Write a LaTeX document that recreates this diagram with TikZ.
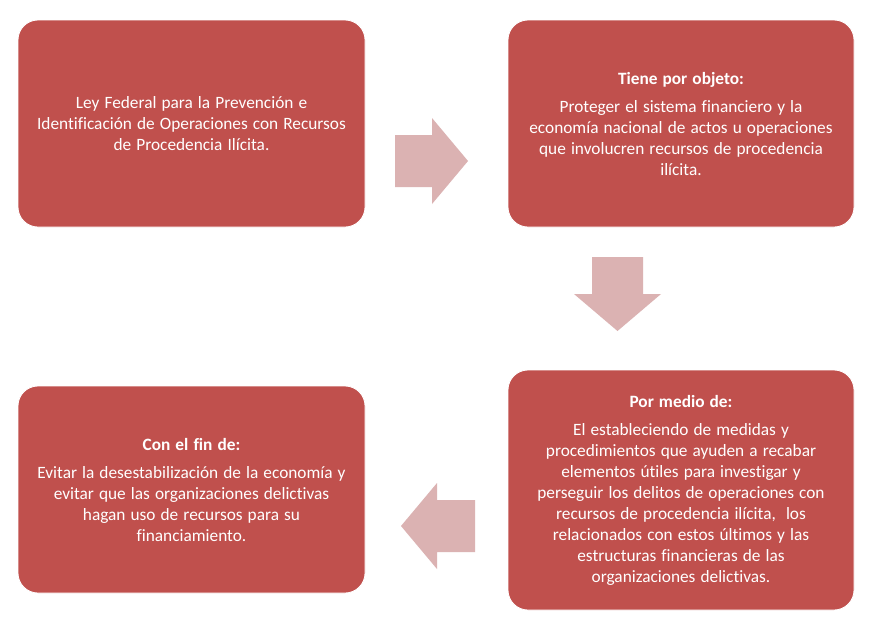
\documentclass[tikz,border=0pt]{standalone}
\usepackage{fontspec}
\setmainfont{Carlito}[Ligatures=NoCommon, WordSpace={1.3}]
\usetikzlibrary{calc}
\definecolor{boxred}{HTML}{C0504D}
\definecolor{arrowpink}{HTML}{DBB2B2}
\tikzset{
	redbox/.style={rectangle, rounded corners=20pt, fill=boxred, draw=white, line width=0.8pt,
		text=white, align=center, inner sep=0pt, font=\fontsize{17.3}{21}\selectfont},
	blockarrow/.style={fill=arrowpink, draw=none}
}

\begin{document}
\begin{tikzpicture}[x=1pt, y=-1pt]
		%%%%% START %%%%%
		
		\useasboundingbox[fill=white] (0, 0) rectangle (885, 635);
		
		\node[redbox, minimum width=347pt, minimum height=207pt] (ley) at (191.5, 123.5)
			{Ley Federal para la Prevención e\\Identificación de Operaciones con Recursos\\de Procedencia Ilícita.};
		\node[redbox, minimum width=346pt, minimum height=207pt] (objeto) at (681, 123.5)
			{\textbf{Tiene por objeto:}\\[7pt]Proteger el sistema financiero y la\\economía nacional de actos u operaciones\\que involucren recursos de procedencia\\ilícita.};
		\node[redbox, minimum width=346pt, minimum height=240pt] (medio) at (681, 490)
			{\textbf{Por medio de:}\\[7pt]El estableciendo de medidas y\\procedimientos que ayuden a recabar\\elementos útiles para investigar y\\perseguir los delitos de operaciones con\\recursos de procedencia ilícita, \ los\\relacionados con estos últimos y las\\estructuras financieras de las\\organizaciones delictivas.};
		\node[redbox, minimum width=347pt, minimum height=207pt] (fin) at (191.5, 489.5)
			{\textbf{Con el fin de:}\\[7pt]Evitar la desestabilización de la economía y\\evitar que las organizaciones delictivas\\hagan uso de recursos para su\\financiamiento.};
		
		% arrows between the boxes
		\fill[blockarrow] (395, 135) -- (432, 135) -- (432, 118) -- (468, 161) -- (432, 204) -- (432, 187) -- (395, 187) -- cycle;
		\fill[blockarrow] (592, 257) -- (643, 257) -- (643, 294) -- (661, 294) -- (617.5, 331) -- (574, 294) -- (592, 294) -- cycle;
		\fill[blockarrow] (475, 500) -- (437, 500) -- (437, 483) -- (401, 526) -- (437, 569) -- (437, 552) -- (475, 552) -- cycle;
		
		%%%%% END %%%%%
	\end{tikzpicture}
\end{document}
